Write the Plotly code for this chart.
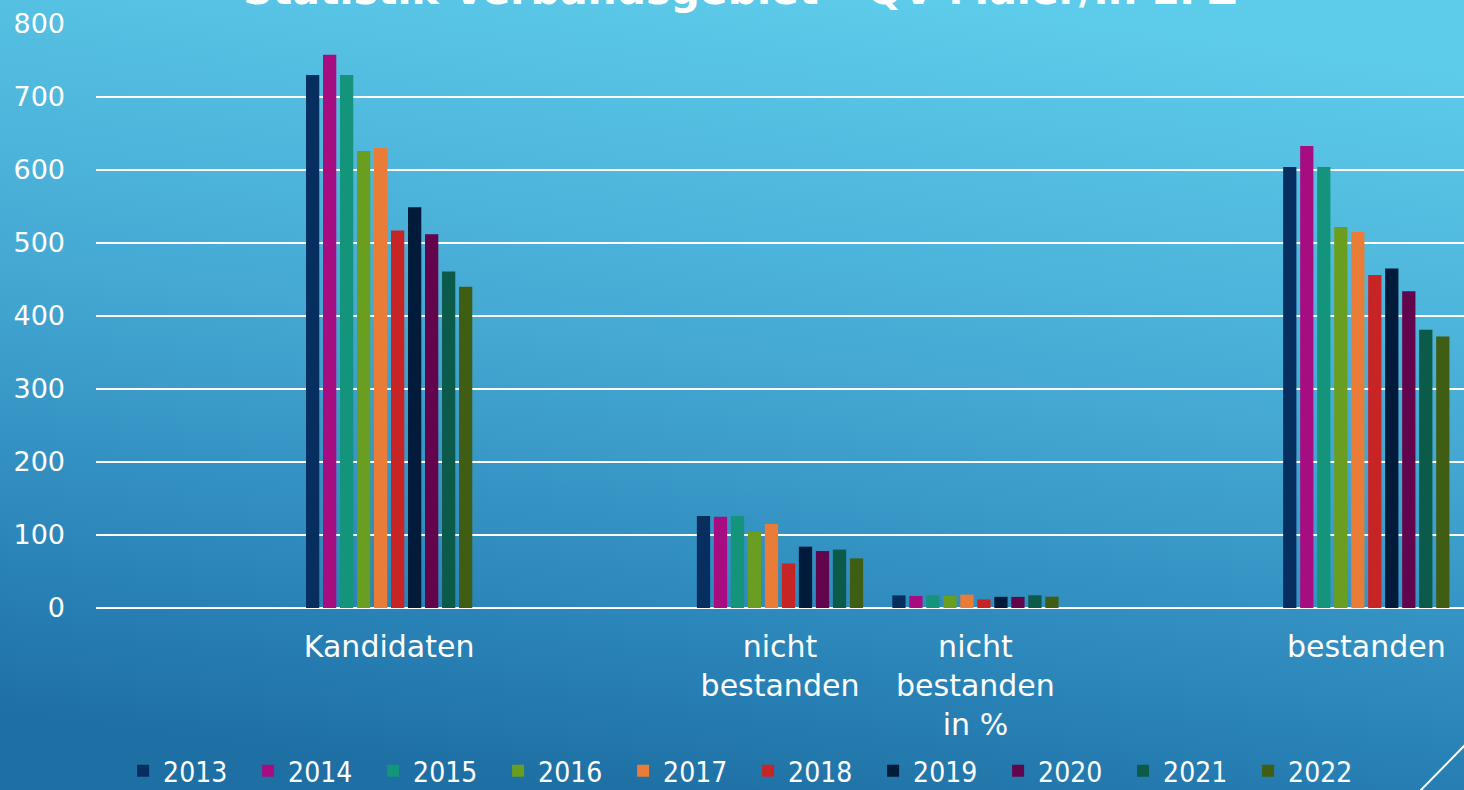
import plotly.graph_objects as go
import urllib.parse

years = ["2013", "2014", "2015", "2016", "2017", "2018", "2019", "2020", "2021", "2022"]
categories = [" ", "Kandidaten", "  ", "nicht<br>bestanden", "nicht<br>bestanden<br>in %", "   ", "bestanden"]
kandidaten = [730, 758, 730, 626, 630, 517, 549, 512, 461, 440]
nicht_bestanden = [126, 125, 126, 104, 115, 61, 84, 78, 80, 68]
nicht_bestanden_pct = [17.3, 16.5, 17.3, 16.6, 18.3, 11.8, 15.3, 15.2, 17.4, 15.5]
bestanden = [604, 633, 604, 522, 515, 456, 465, 434, 381, 372]
colors = ["#062f60", "#a60d81", "#14957b", "#6a9e21", "#e97d38", "#c72426",
          "#021b3a", "#62054c", "#0c5a4a", "#405d14"]
title_text = "Statistik Verbandsgebiet – QV Maler/in EFZ"

W, H = 1464, 790
L, R, T, B = 96, 0, 24, 182
PW, PH = W - L - R, H - T - B


def px_x(px):
    return (px - L) / PW


def px_y(py):
    return (H - B - py) / PH


fig = go.Figure()
for i, yr in enumerate(years):
    yvals = [None, kandidaten[i], None, nicht_bestanden[i], nicht_bestanden_pct[i], None, bestanden[i]]
    fig.add_trace(go.Bar(
        x=categories, y=yvals, name=yr,
        marker=dict(color=colors[i], line=dict(width=0)),
    ))

svg = (
    "<svg xmlns='http://www.w3.org/2000/svg' width='1464' height='790' preserveAspectRatio='none'>"
    "<defs><linearGradient id='g' x1='0.62' y1='0' x2='0.38' y2='1'>"
    "<stop offset='0' stop-color='#5dcbea'/>"
    "<stop offset='0.45' stop-color='#45a9d3'/>"
    "<stop offset='0.8' stop-color='#2a84b8'/>"
    "<stop offset='1' stop-color='#1e6fa3'/>"
    "</linearGradient></defs>"
    "<rect width='1464' height='790' fill='url(#g)'/></svg>"
)
src = "data:image/svg+xml;charset=utf-8," + urllib.parse.quote(svg)

fig.add_layout_image(dict(
    source=src, xref="paper", yref="paper",
    x=px_x(0), y=px_y(0), sizex=W / PW, sizey=H / PH,
    xanchor="left", yanchor="top", sizing="stretch", layer="below",
))

fig.add_shape(type="line", xref="paper", yref="paper",
              x0=px_x(1420), y0=px_y(791), x1=px_x(1466), y1=px_y(744),
              line=dict(color="white", width=2))

fig.add_annotation(text="<b>" + title_text + "</b>", xref="paper", yref="paper",
                   x=px_x(740), y=px_y(16), xanchor="center", yanchor="bottom",
                   showarrow=False, font=dict(family="DejaVu Sans", size=41, color="white"))

fig.update_layout(
    width=W, height=H,
    margin=dict(l=L, r=R, t=T, b=B, pad=0),
    paper_bgcolor="#2b86ba", plot_bgcolor="rgba(0,0,0,0)",
    barmode="group", bargap=0.13, bargroupgap=0.22,
    font=dict(family="DejaVu Sans", color="white", size=27),
    showlegend=True,
    legend=dict(orientation="h", xref="container", yref="container",
                x=0.511, y=0.024, xanchor="center", yanchor="middle",
                font=dict(family="DejaVu Sans Condensed", size=28, color="white"),
                entrywidth=80, entrywidthmode="pixels",
                bgcolor="rgba(0,0,0,0)", traceorder="normal"),
)
fig.update_xaxes(type="category", categoryorder="array", categoryarray=categories,
                 showgrid=False, showline=False, zeroline=False, ticks="",
                 tickfont=dict(size=30, family="DejaVu Sans", color="white"),
                 ticklabelstandoff=18, fixedrange=True)
fig.update_yaxes(range=[0, 800], dtick=100, showgrid=True, gridcolor="white", gridwidth=2,
                 zeroline=True, zerolinecolor="white", zerolinewidth=2, showline=False,
                 ticks="", tickfont=dict(size=27, family="DejaVu Sans", color="white"),
                 ticklabelstandoff=30, fixedrange=True)

fig.write_html("out.html")
